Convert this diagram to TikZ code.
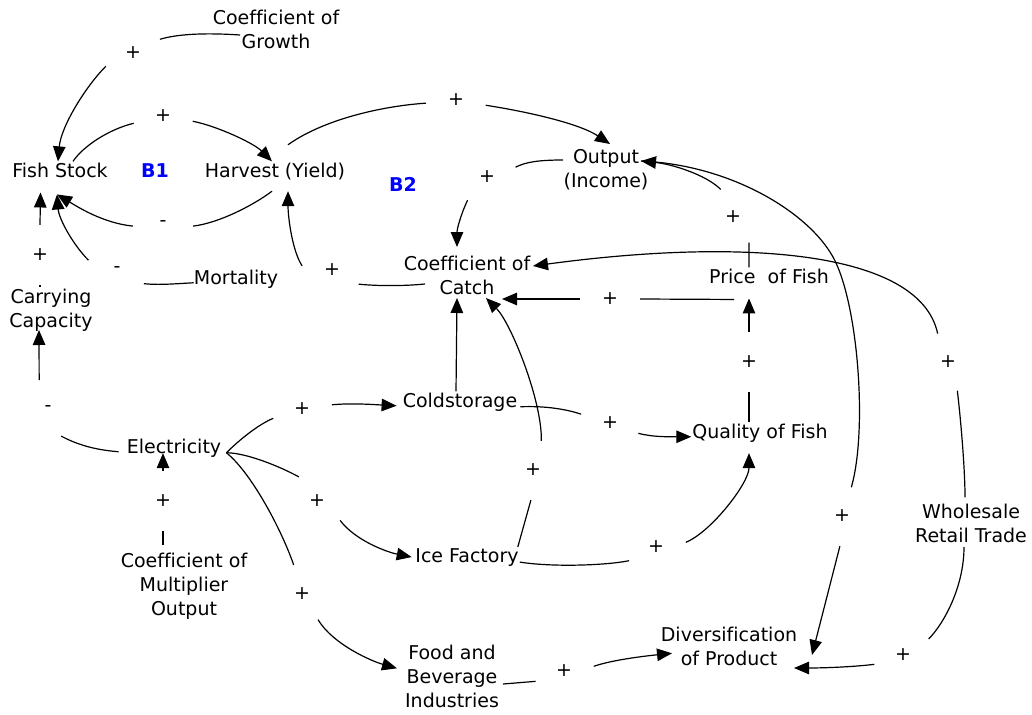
\documentclass[tikz,border=0pt]{standalone}
\usepackage{fontspec}
\setmainfont{DejaVu Sans}[Ligatures=NoCommon]
\usetikzlibrary{arrows.meta}
\begin{document}
\begin{tikzpicture}[x=1pt,y=-1pt,
  txt/.style={inner sep=1pt, font=\fontsize{19}{24}\selectfont},
  txtm/.style={inner sep=1pt, align=center, font=\fontsize{19}{24}\selectfont},
  lp/.style={inner sep=1pt, font=\fontsize{19}{24}\selectfont\bfseries, text=blue},
  sg/.style={circle, minimum size=60pt, inner sep=0pt, font=\fontsize{19}{24}\selectfont},
  lnk/.style={line width=1.2pt},
  arr/.style={line width=1.2pt, -{Triangle[length=15pt,width=12.5pt]}}]
\useasboundingbox (0,0) rectangle (1032,714);

% variables
\node[txt,anchor=base] (fs) at (60,177) {Fish Stock};
\node[lp,anchor=base] (b1) at (155,177) {B1};
\node[txt,anchor=base] (hv) at (275,177) {Harvest (Yield)};
\node[lp,anchor=base] (b2) at (403,191) {B2};
\node[txtm] (cg) at (276,29.5) {Coefficient of\\Growth};
\node[txtm] (out) at (606,170) {Output\\(Income)};
\node[txtm] (cc) at (467,275.6) {Coefficient of\\Catch};
\node[txt,anchor=base] (mo) at (236,284) {Mortality};
\node[txt,anchor=base] (pf) at (769,283) {Price~~of Fish};
\node[txtm] (cap) at (51,310) {Carrying\\Capacity};
\node[txt,anchor=base] (el) at (174,453) {Electricity};
\node[txt,anchor=base] (cs) at (460,407) {Coldstorage};
\node[txt,anchor=base] (qf) at (760,438) {Quality of Fish};
\node[txt,anchor=base] (ice) at (467,562) {Ice Factory};
\node[txtm] (cm) at (184,586.7) {Coefficient of\\Multiplier\\Output};
\node[txtm] (fb) at (452,676.6) {Food and\\Beverage\\Industries};
\node[txtm] (dv) at (729,646.7) {Diversification\\of Product};
\node[txtm] (wr) at (971,523.3) {Wholesale\\Retail Trade};

% polarity signs
\node[sg] (sA) at (133,53) {+};
\node[sg] (sB) at (163,116) {+};
\node[sg] (sC) at (163,224) {-};
\node[sg] (sD) at (40,255) {+};
\node[sg] (sE) at (117,270) {-};
\node[sg] (sF) at (456,100) {+};
\node[sg] (sG) at (487,177) {+};
\node[sg] (sH) at (332,270) {+};
\node[sg] (sI) at (610,299) {+};
\node[sg] (sJ) at (733,217) {+};
\node[sg] (sK) at (749,362) {+};
\node[sg] (sL) at (948,362) {+};
\node[sg] (sM) at (842,516) {+};
\node[sg] (sN) at (903,655) {+};
\node[sg] (sO) at (564,671) {+};
\node[sg] (sP) at (302,594) {+};
\node[sg] (sQ) at (317,501) {+};
\node[sg] (sR) at (302,409) {+};
\node[sg] (sS) at (48,409) {-};
\node[sg] (sT) at (163,501) {+};
\node[sg] (sU) at (610,423) {+};
\node[sg] (sV) at (533,470) {+};
\node[sg] (sW) at (656,547) {+};
\coordinate (bendM) at (833,257);

% Coefficient of Growth -> Fish Stock
\draw[lnk] ([xshift=-36pt,yshift=-5.5pt]cg.center) .. controls +(-30,-2) and +(20,-6) .. (sA.27);
\draw[arr] (sA.206) .. controls +(-20,20) and +(3,-35) .. ([xshift=-2pt]fs.north);
% Fish Stock -> Harvest
\draw[lnk] ([xshift=13pt]fs.north) .. controls +(10,-15) and +(-25,6) .. (sB.194);
\draw[arr] (sB.350) .. controls +(25,5) and +(-18,-18) .. ([xshift=-3pt]hv.north);
% Harvest -> Fish Stock
\draw[lnk] ([xshift=-3pt,yshift=-10.5pt]hv.south) .. controls +(-20,15) and +(25,-3) .. (sC.356);
\draw[arr] (sC.184) .. controls +(-30,-3) and +(20,12) .. ([xshift=-3pt,yshift=-16pt]fs.south);
% Carrying Capacity -> Fish Stock
\draw[lnk] ([xshift=-11pt,yshift=23pt]cap.center) -- (sD.south);
\draw[arr] (sD.north) -- ([xshift=-19.5pt,yshift=-14pt]fs.south);
% Mortality -> Fish Stock
\draw[lnk] ([xshift=1pt,yshift=-4pt]mo.west) .. controls +(-18,1) and +(15,1.5) .. (sE.333);
\draw[arr] (sE.161) .. controls +(-15,-15) and +(2,25) .. ([xshift=-3pt,yshift=-16pt]fs.south);
% Harvest -> Output
\draw[lnk] ([xshift=13pt,yshift=16.6pt]hv.north) .. controls +(35,-25) and +(-45,3) .. (sF.186);
\draw[arr] (sF.350) .. controls +(45,7) and +(-30,-20) .. ([xshift=4pt,yshift=26pt]out.center);
% Output -> Coefficient of Catch
\draw[lnk] ([xshift=-43pt,yshift=10pt]out.center) .. controls +(-25,0) and +(10,-5) .. (sG.19);
\draw[arr] (sG.230) .. controls +(-7,15) and +(0,-18) .. ([xshift=-10pt,yshift=28.6pt]cc.center);
% Coefficient of Catch -> Harvest
\draw[lnk] ([xshift=-42pt,yshift=-8.4pt]cc.center) .. controls +(-20,2) and +(20,2) .. (sH.332);
\draw[arr] (sH.172) .. controls +(-10,-15) and +(0,25) .. ([xshift=13pt,yshift=-10.5pt]hv.south);
% Price -> Coefficient of Catch
\draw[lnk] ([xshift=-35pt,yshift=-15pt]pf.south) -- (sI.east);
\draw[arr] (sI.west) -- ([xshift=35pt,yshift=-23.4pt]cc.center);
% Price -> Output
\draw[lnk] ([xshift=-20pt]pf.north) -- (sJ.302);
\draw[arr] (sJ.114) .. controls +(-15,-15) and +(30,3) .. ([xshift=35pt,yshift=9pt]out.center);
% Quality -> Price
\draw[lnk] ([xshift=-11pt]qf.north) -- (sK.south);
\draw[arr] (sK.north) -- ([xshift=-20pt,yshift=-14pt]pf.south);
% Wholesale -> Coefficient of Catch
\draw[lnk] ([xshift=-6pt,yshift=26pt]wr.center) .. controls +(0,-30) and +(3,25) .. (sL.288);
\draw[arr] (sL.110) .. controls +(-18,-84) and +(207,-28) .. ([xshift=66pt,yshift=9.6pt]cc.center);
% Output -> Diversification
\draw[lnk] ([xshift=35pt,yshift=9pt]out.center) .. controls +(90,4) and +(-25,-45) .. (bendM) .. controls +(25,45) and +(16.5,-57.5) .. (sM.72);
\draw[arr] (sM.266) -- ([xshift=83pt,yshift=-8.3pt]dv.center);
% Wholesale -> Diversification
\draw[lnk] ([xshift=-7pt,yshift=-23.7pt]wr.center) .. controls +(0,40) and +(15,-15) .. (sN.32);
\draw[arr] (sN.198) .. controls +(-25,3) and +(25,0) .. ([xshift=65pt,yshift=-21.3pt]dv.center);
% Food -> Diversification
\draw[lnk] ([xshift=51pt,yshift=-7.4pt]fb.center) -- (sO.200);
\draw[arr] (sO.9) .. controls +(20,-7) and +(-20,2) .. ([xshift=-57pt,yshift=-6.6pt]dv.center);
% Electricity -> Food
\draw[lnk] ([xshift=4pt,yshift=-5pt]el.east) .. controls +(25,20) and +(-12,-35) .. (sP.106);
\draw[arr] (sP.302) .. controls +(15,25) and +(-25,-7) .. ([xshift=-55pt,yshift=8.3pt]fb.center);
% Electricity -> Ice Factory
\draw[lnk] ([xshift=4pt,yshift=-5pt]el.east) .. controls +(20,0) and +(-18,-10) .. (sQ.127);
\draw[arr] (sQ.320) .. controls +(15,20) and +(-25,-5) .. ([xshift=-2.5pt]ice.west);
% Electricity -> Coldstorage
\draw[lnk] ([xshift=4pt,yshift=-5pt]el.east) .. controls +(12,-12) and +(-15,6) .. (sR.198);
\draw[arr] (sR.8) .. controls +(20,-2) and +(-20,-1) .. ([xshift=-5pt,yshift=-4pt]cs.west);
% Electricity -> Carrying Capacity
\draw[lnk] ([xshift=-7pt,yshift=-4pt]el.west) .. controls +(-25,-2) and +(15,8) .. (sS.296);
\draw[arr] (sS.107) -- ([xshift=-12pt,yshift=-20pt]cap.center);
% Multiplier -> Electricity
\draw[lnk] ([xshift=-21pt,yshift=41.7pt]cm.center) -- (sT.south);
\draw[arr] (sT.north) -- ([xshift=-11pt,yshift=5pt]el.south);
% Coldstorage -> Coefficient of Catch
\draw[arr] ([xshift=-4pt]cs.north) -- ([xshift=-10pt,yshift=-22.4pt]cc.center);
% Coldstorage -> Quality
\draw[lnk] ([xshift=2pt,yshift=-5pt]cs.east) .. controls +(25,-1) and +(-15,-5) .. (sU.163);
\draw[arr] (sU.340) .. controls +(15,4) and +(-20,0) .. ([yshift=-4pt]qf.west);
% Ice Factory -> Coefficient of Catch
\draw[lnk] ([xshift=-2pt]ice.north east) -- (sV.266);
\draw[arr] (sV.74) .. controls +(1,-40) and +(25,25) .. ([xshift=19pt,yshift=-22.4pt]cc.center);
% Ice Factory -> Quality
\draw[lnk] ([yshift=-5pt]ice.east) .. controls +(30,5) and +(-25,5) .. (sW.207);
\draw[arr] (sW.9) .. controls +(25,-10) and +(0,30) .. ([xshift=-11pt,yshift=-10pt]qf.south);
\end{tikzpicture}
\end{document}
